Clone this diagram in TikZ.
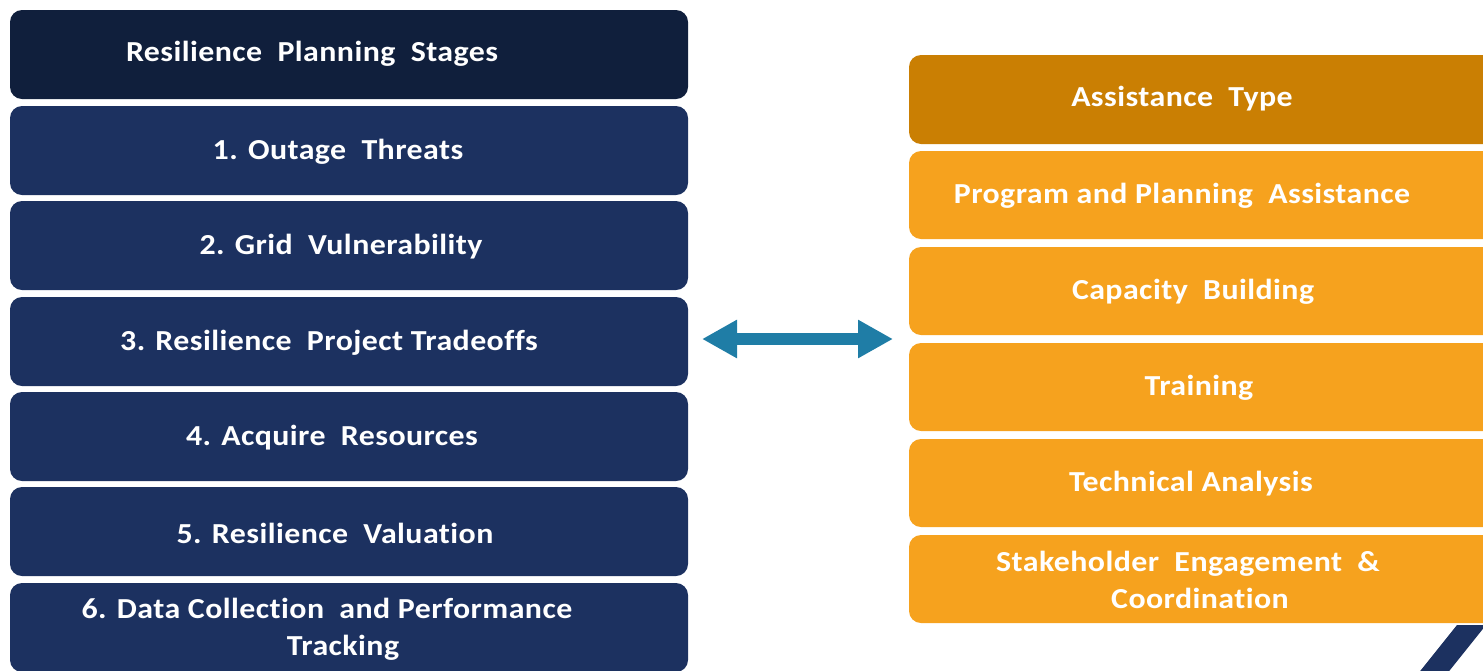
\documentclass[tikz,border=0pt]{standalone}
\usepackage{fontspec}
\setmainfont{Carlito}[FakeStretch=1.1,LetterSpace=1.5,Ligatures=CommonOff]
\usetikzlibrary{arrows.meta}
\definecolor{navyhead}{HTML}{101F3C}
\definecolor{navybox}{HTML}{1C3160}
\definecolor{amberhead}{HTML}{CA7F03}
\definecolor{amberbox}{HTML}{F6A21E}
\definecolor{arrowblue}{HTML}{1F7DA6}
\begin{document}
\begin{tikzpicture}[x=0.02cm,y=-0.02cm,
    every node/.style={text=white,align=center,inner sep=0pt,
      font=\bfseries\fontsize{16.5}{21}\selectfont},
    box/.style={rounded corners=0.24cm},
    >={Triangle[length=0.7cm,width=0.72cm]}]
  \useasboundingbox (0,0) rectangle (1483,670);
  \clip (0,0) rectangle (1483,670);
  % planning stages
  \fill[navyhead,box](10,10)rectangle(688,99);
  \node (stages) at (312,54) {Resilience~ Planning~ Stages};
  \foreach \y/\x/\txt [count=\i] in {106/338/{1. Outage~ Threats},
      201/341/{2. Grid~ Vulnerability},
      297/329/{3. Resilience~ Project Tradeoffs},
      392/332/{4. Acquire~ Resources},
      487/335/{5. Resilience~ Valuation},
      583/327/{6. Data Collection~ and Performance\\\hspace*{0.64cm}Tracking}}{
    \fill[navybox,box](10,\y)rectangle(688,\y+89);
    \node (s\i) at (\x,\y+46) {\txt};
  }
  % assistance types
  \fill[amberhead,box](909,55)rectangle(1520,144);
  \node (types) at (1182,99) {Assistance~ Type};
  \foreach \y/\x/\txt [count=\i] in {151/1182/{Program and Planning~ Assistance},
      247/1193/{Capacity~ Building},
      343/1199/{Training},
      439/1191/{Technical Analysis},
      535/1188/{Stakeholder~ Engagement~ \&\\\hspace*{0.48cm}Coordination}}{
    \fill[amberbox,box](909,\y)rectangle(1520,\y+88);
    \node (a\i) at (\x,\y+45) {\txt};
  }
  \coordinate (arrL) at (702,339);
  \coordinate (arrR) at (893,339);
  \draw[arrowblue,line width=0.24cm,<->](arrL)--(arrR);
  \fill[navybox](1457,625)--(1486,625)--(1442,680)--(1413,680)--cycle;
\end{tikzpicture}
\end{document}
